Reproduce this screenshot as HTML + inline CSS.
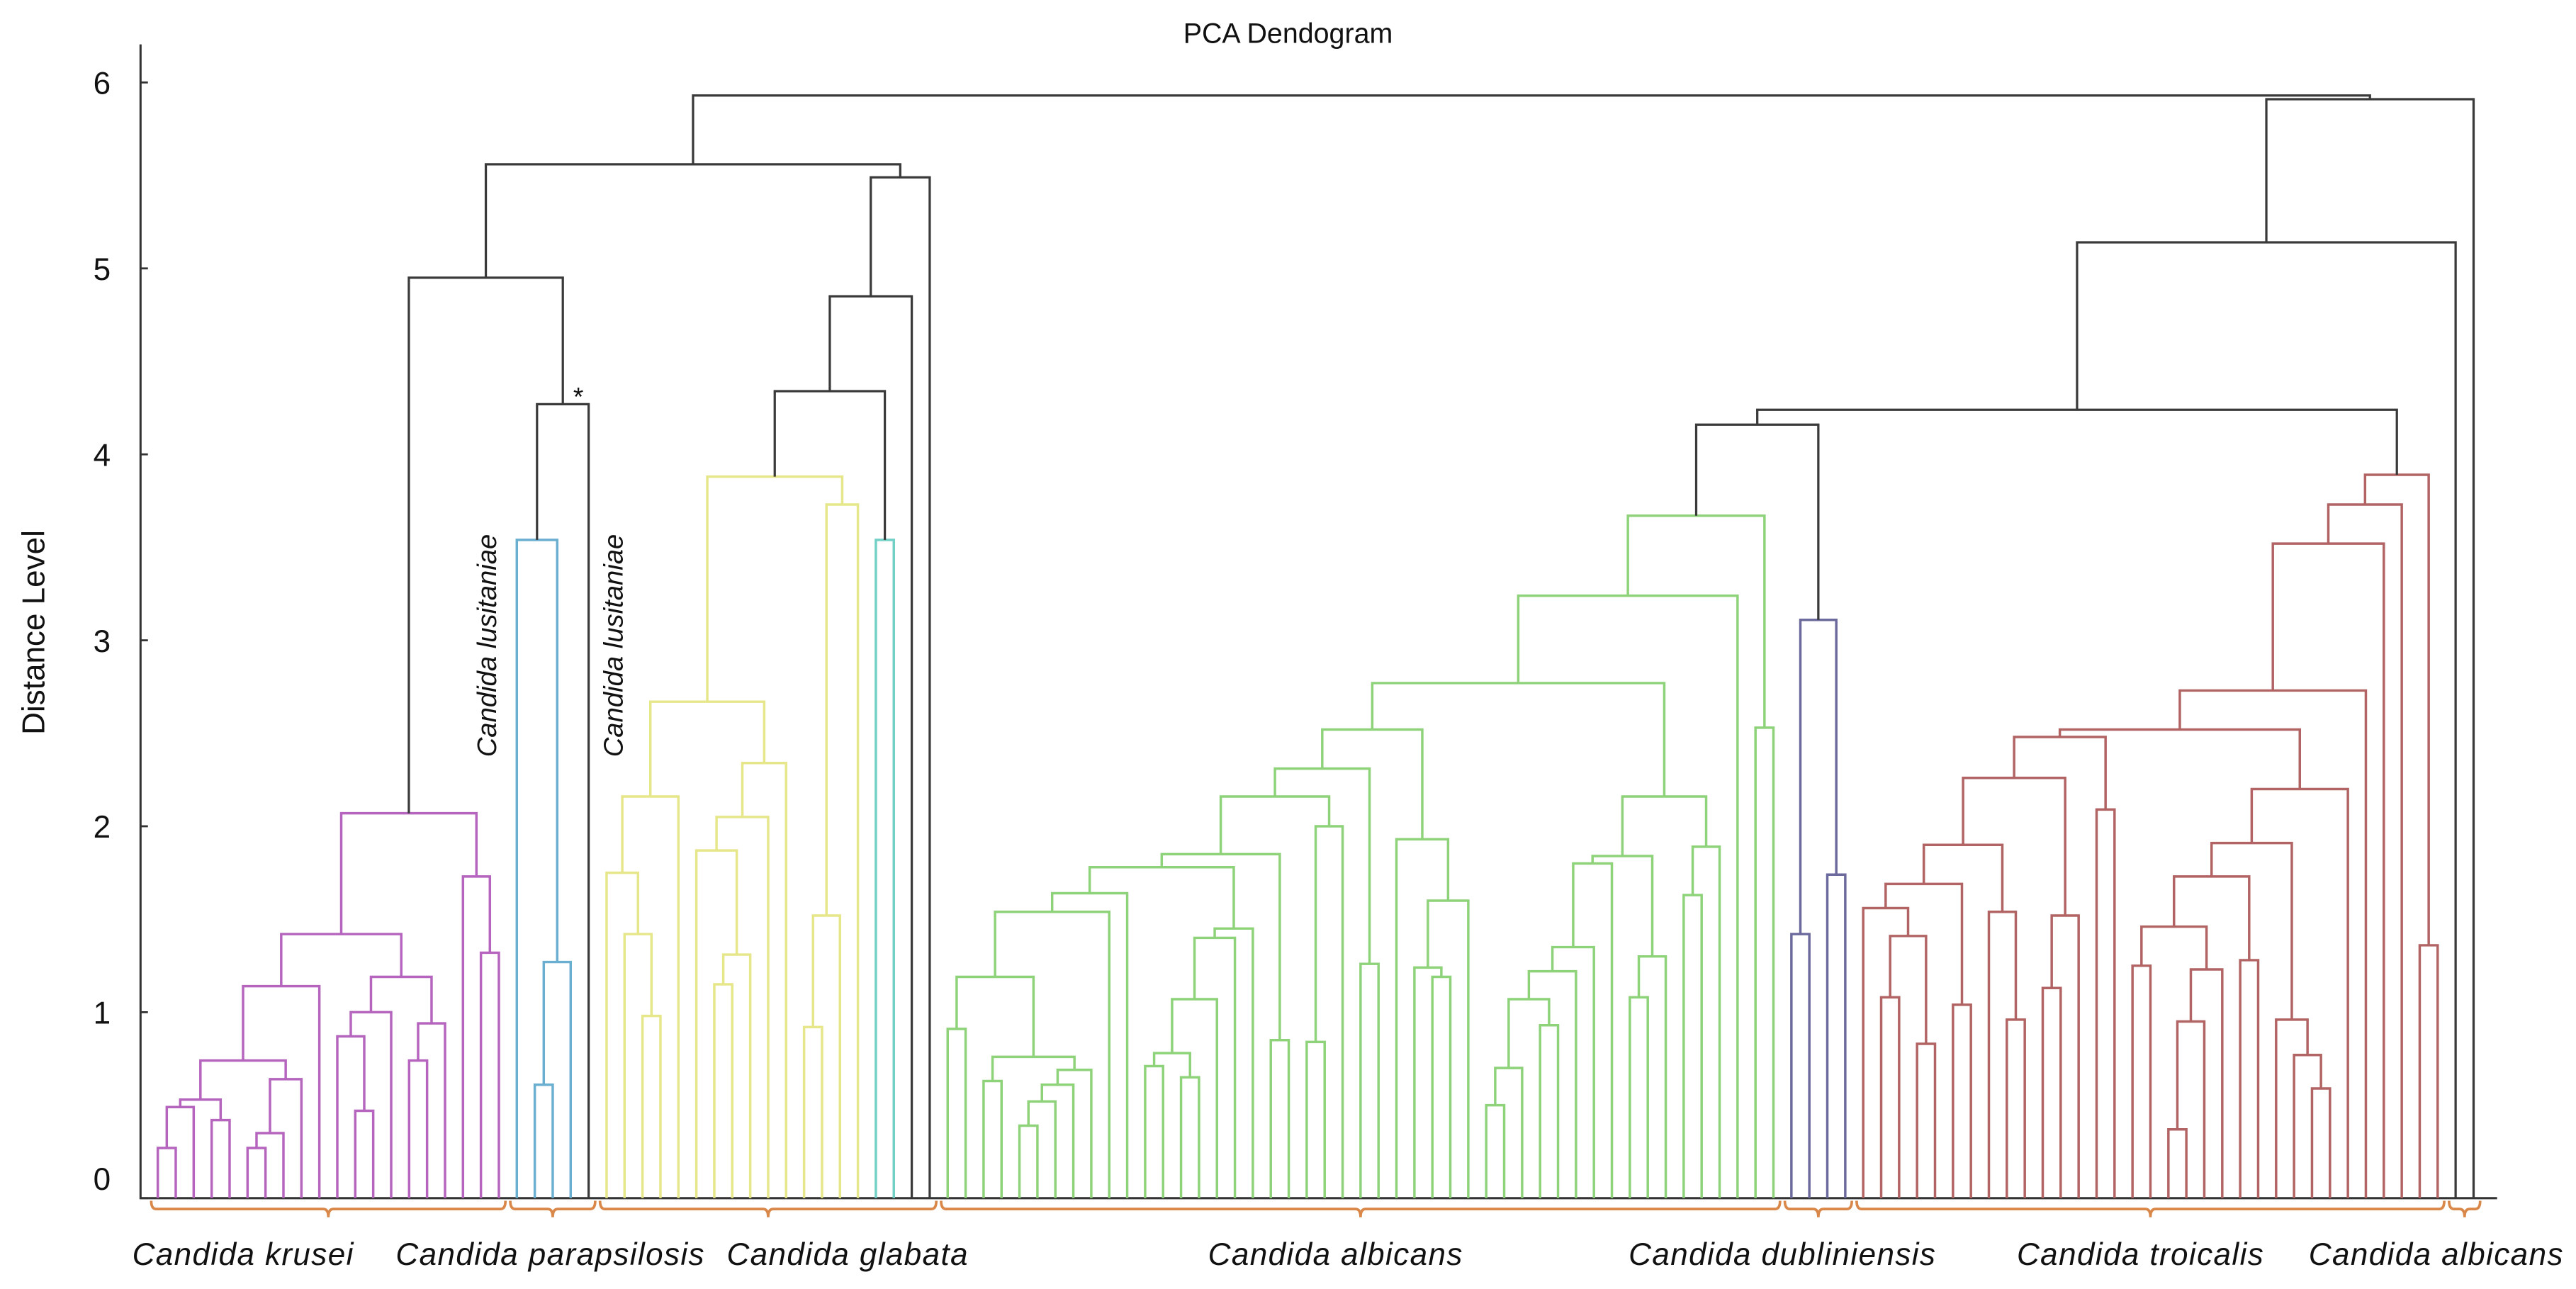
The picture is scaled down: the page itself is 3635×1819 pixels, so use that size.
<!DOCTYPE html>
<html><head><meta charset="utf-8"><style>
html,body{margin:0;padding:0;background:#fff}
svg{display:block}
text{font-family:"Liberation Sans",sans-serif;fill:#111}
</style></head><body>
<svg id="chart" width="3635" height="1819" viewBox="0 0 1568 784.7" xmlns="http://www.w3.org/2000/svg">
<text x="784" y="26" font-size="17" text-anchor="middle">PCA Dendogram</text>
<text transform="translate(27,385) rotate(-90)" font-size="19" text-anchor="middle">Distance Level</text>
<g id="axis"></g>
<g id="links"></g>
<g id="braces"></g>
<text transform="translate(302,393) rotate(-90)" font-size="16.5" font-style="italic" text-anchor="middle">Candida lusitaniae</text>
<text transform="translate(379,393) rotate(-90)" font-size="16.5" font-style="italic" text-anchor="middle">Candida lusitaniae</text>
<text x="352" y="247" font-size="16" text-anchor="middle">*</text>
</svg>
<script>
// ---- data ----
const yTicks = [0,1,2,3,4,5,6];
const groupNames = ["Candida krusei","Candida parapsilosis","Candida glabata","Candida albicans","Candida dubliniensis","Candida troicalis","Candida albicans"];
const groupSizes = [20,5,19,47,4,35];
const braceRanges = [[0,19],[20,24],[25,43],[44,90],[91,94],[95,127],[128,129]];
const colorRuns = [[20,"#b565bd"],[4,"#6aaed0"],[1,"#3a3a3a"],[15,"#e6e68a"],[2,"#72d0c6"],[2,"#3a3a3a"],[47,"#8ed27a"],[4,"#6c6a9c"],[33,"#b26464"],[2,"#3a3a3a"]];
const kA = [[[0,1,.27],2,.49],[3,4,.42],.53];
const kB = [[[5,6,.27],7,.35],8,.64];
const kD = [[kA,kB,.74],9,1.14];
const kE = [[[10,[11,12,.47],.87],13,1.0],[[14,15,.74],16,.94],1.19];
const kG = [17,[18,19,1.32],1.73];
const krusei = [[kD,kE,1.42],kG,2.07];
const parapsilosis = [[0,[[1,2,.61],3,1.27],3.54],4,4.27];
const glA = [[0,[1,[2,3,.98],1.42],1.75],4,2.16];
const glB = [[[5,[[6,7,1.15],8,1.31],1.87],9,2.05],10,2.34];
const glabataLow = [glA,glB,2.67];
const glabataMid = [[[11,12,.92],13,1.52],14,3.73];
const glabataTopH = [3.88,4.34,4.85,5.49];
const glabataCyan = [15,16,3.54];
const aG1 = [[0,1,.91],[[2,3,.63],[[[[4,5,.39],6,.52],7,.61],8,.69],.76],1.19];
const aG2 = [[aG1,9,1.54],10,1.64];
const aG3 = [[[[[11,12,.71],[13,14,.65],.78],15,1.07],16,1.40],17,1.45];
const aG4 = [[[aG2,aG3,1.78],[18,19,.85],1.85],[[20,21,.84],22,2.0],2.16];
const aG5 = [[aG4,[23,24,1.26],2.31],[25,[[26,[27,28,1.19],1.24],29,1.60],1.93],2.52];
const aG6 = [[[[[[30,31,.5],32,.70],[33,34,.93],1.07],35,1.22],36,1.35],37,1.80];
const aG7 = [[aG6,[[38,39,1.08],40,1.30],1.84],[[41,42,1.63],43,1.89],2.16];
const albicans = [[[aG5,aG7,2.77],44,3.24],[45,46,2.53],3.67];
const dubliniensis = [[0,1,1.42],[2,3,1.74],3.11];
const tT1 = [[0,[[1,2,1.08],[3,4,.83],1.41],1.56],[5,6,1.04],1.69];
const tT2 = [7,[8,9,.96],1.54];
const tT4 = [[10,11,1.13],12,1.52];
const tT6 = [[[tT1,tT2,1.90],tT4,2.26],[13,14,2.09],2.48];
const tT7 = [[[[15,16,1.25],[[[17,18,.37],19,.95],20,1.23],1.46],[21,22,1.28],1.73],[23,[24,[25,26,.59],.77],.96],1.91];
const tropicalisLeft = [tT6,[tT7,27,2.20],2.52];
const tropicalisUpper = [2.73,3.52,3.73];
const tropicalisPair = [31,32,1.36];
const tropicalisTopH = 3.89;
const mergeHeights = {krPa:4.95, left:5.56, alDu:4.16, rightA:4.24, rightB:5.14, rightC:5.91, top:5.93};

// ---- scales ----
const X0 = 96, X1 = 1505.7, NLEAF = 130, Y0 = 729.4, PXU = 113.2;
const xs = i => X0 + i * (X1 - X0) / (NLEAF - 1);
const ys = v => Y0 - v * PXU;
const offsets = []; { let o = 0; for (const s of groupSizes) { offsets.push(o); o += s; } }
const leafColor = []; for (const [n, c] of colorRuns) for (let k = 0; k < n; k++) leafColor.push(c);
function shift(t, o) { return typeof t === "number" ? t + o : [shift(t[0], o), shift(t[1], o), t[2]]; }

const oK = offsets[0], oP = offsets[1], oG = offsets[2], oA = offsets[3], oD = offsets[4], oT = offsets[5];
let gl = [shift(glabataLow, oG), shift(glabataMid, oG), glabataTopH[0]];
gl = [gl, shift(glabataCyan, oG), glabataTopH[1]];
gl = [gl, oG + 17, glabataTopH[2]];
gl = [gl, oG + 18, glabataTopH[3]];
let tr = [shift(tropicalisLeft, oT), oT + 28, tropicalisUpper[0]];
tr = [tr, oT + 29, tropicalisUpper[1]];
tr = [tr, oT + 30, tropicalisUpper[2]];
tr = [tr, shift(tropicalisPair, oT), tropicalisTopH];
const leftTree = [[shift(krusei, oK), shift(parapsilosis, oP), mergeHeights.krPa], gl, mergeHeights.left];
let rightTree = [[shift(albicans, oA), shift(dubliniensis, oD), mergeHeights.alDu], tr, mergeHeights.rightA];
rightTree = [rightTree, oT + 33, mergeHeights.rightB];
rightTree = [rightTree, oT + 34, mergeHeights.rightC];
const fullTree = [leftTree, rightTree, mergeHeights.top];

// ---- draw ----
const NS = "http://www.w3.org/2000/svg";
const linksG = document.getElementById("links");
const BLACK = "#3a3a3a";
function draw(t) {
  if (typeof t === "number") return { x: xs(t), h: 0, c: leafColor[t] };
  const a = draw(t[0]), b = draw(t[1]);
  const c = (a.c === b.c) ? a.c : BLACK;
  const p = document.createElementNS(NS, "path");
  p.setAttribute("d", `M${a.x},${ys(a.h)}V${ys(t[2])}H${b.x}V${ys(b.h)}`);
  p.setAttribute("fill", "none");
  p.setAttribute("stroke", c);
  p.setAttribute("stroke-width", c === BLACK ? 1.4 : 1.5);
  
  
  linksG.appendChild(p);
  return { x: (a.x + b.x) / 2, h: t[2], c };
}
draw(fullTree);

const ax = document.getElementById("axis");
const axLine = document.createElementNS(NS, "path");
axLine.setAttribute("d", `M85.5,27V${Y0}H1520`);
axLine.setAttribute("fill", "none"); axLine.setAttribute("stroke", "#333"); axLine.setAttribute("stroke-width", 1.3);


ax.appendChild(axLine);
for (const v of yTicks) {
  const tk = document.createElementNS(NS, "line");
  tk.setAttribute("x1", 85.5); tk.setAttribute("x2", 90); tk.setAttribute("y1", ys(v)); tk.setAttribute("y2", ys(v));
  tk.setAttribute("stroke", "#333"); tk.setAttribute("stroke-width", 1.2);
  
  
  ax.appendChild(tk);
  const lb = document.createElementNS(NS, "text");
  lb.setAttribute("x", 62); lb.setAttribute("y", (v === 0 ? ys(v) - 12 : ys(v)) + 7);
  lb.setAttribute("font-size", 19); lb.setAttribute("text-anchor", "middle");
  lb.textContent = String(v);
  
  
  ax.appendChild(lb);
}

const labelCenters = [148, 335, 516, 813, 1085, 1303, 1483];
const br = document.getElementById("braces");
braceRanges.forEach((r, gi) => {
  const x1 = xs(r[0]) - 4, x2 = xs(r[1]) + 4, m = (x1 + x2) / 2;
  const p = document.createElementNS(NS, "path");
  p.setAttribute("d", `M${x1},731Q${x1},736 ${x1+3},736H${m-3}Q${m},736 ${m},741Q${m},736 ${m+3},736H${x2-3}Q${x2},736 ${x2},731`);
  p.setAttribute("fill", "none"); p.setAttribute("stroke", "#d9884a"); p.setAttribute("stroke-width", 1.6);
  
  
  br.appendChild(p);
  const t = document.createElementNS(NS, "text");
  t.setAttribute("x", labelCenters[gi]); t.setAttribute("y", 770);
  t.setAttribute("font-size", 19); t.setAttribute("font-style", "italic"); t.setAttribute("text-anchor", "middle");
  t.setAttribute("letter-spacing", "0.6");
  t.textContent = groupNames[gi];
  
  
  br.appendChild(t);
});
</script>
</body></html>
